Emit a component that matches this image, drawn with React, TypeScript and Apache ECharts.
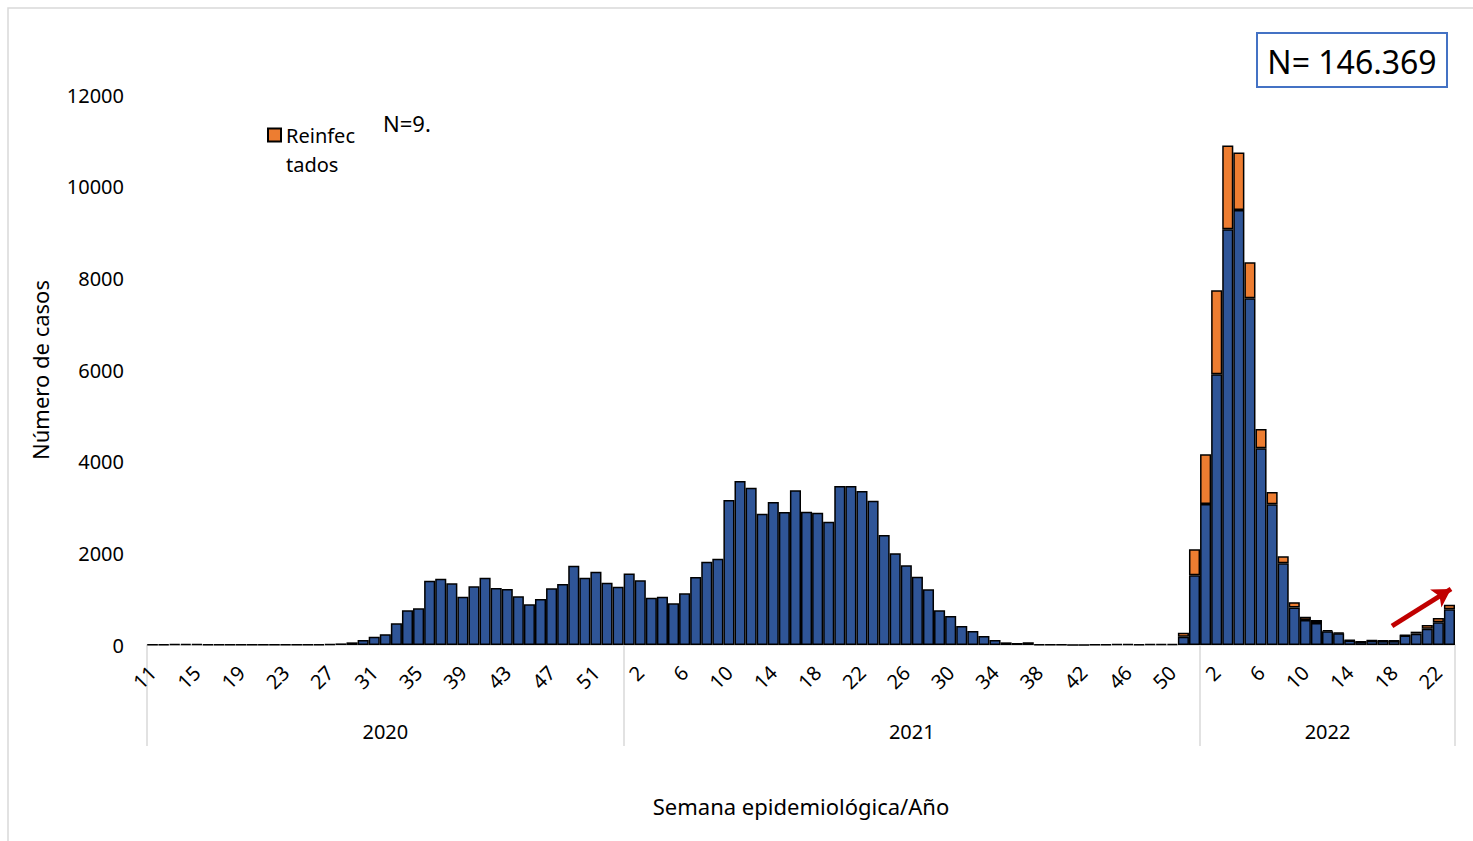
import { useEffect, useRef } from "react";
import * as echarts from "echarts";

// Epidemiological weeks per year
const weeks2020 = Array.from({ length: 43 }, (_, i) => i + 11); // 11..53
const weeks2021 = Array.from({ length: 52 }, (_, i) => i + 1); // 1..52
const weeks2022 = Array.from({ length: 23 }, (_, i) => i + 1); // 1..23
const years = ["2020", "2021", "2022"];

// Cases (blue)
const casos2020 = [
  10, 15, 20, 25, 20, 15, 10, 10, 10, 10,
  10, 10, 15, 10, 10, 15, 20, 35, 58, 109,
  182, 237, 473, 757, 800, 1403, 1447, 1346, 1055, 1280,
  1469, 1244, 1222, 1062, 888, 1004, 1237, 1331, 1731, 1469,
  1600, 1360, 1273,
];
const casos2021 = [
  1560, 1411, 1033, 1055, 909, 1127, 1484, 1818, 1884, 3164,
  3578, 3433, 2866, 3120, 2902, 3375, 2910, 2888, 2691, 3469,
  3469, 3360, 3150, 2400, 2000, 1739, 1491, 1215, 757, 633,
  415, 305, 196, 109, 58, 44, 58, 15, 10, 10,
  5, 5, 10, 15, 20, 20, 15, 20, 20, 25,
  180, 1520,
];
const casos2022 = [
  3077, 5906, 9070, 9492, 7565, 4292, 3070, 1782, 818, 545,
  480, 300, 255, 100, 70, 95, 90, 90, 210, 247,
  356, 495, 778,
];

// Reinfected (orange)
const reinf2020 = [
  0, 0, 0, 0, 0, 0, 0, 0, 0, 0,
  0, 0, 0, 0, 0, 0, 0, 0, 0, 0,
  0, 0, 0, 0, 0, 0, 0, 0, 0, 0,
  0, 0, 0, 0, 0, 0, 0, 0, 0, 0,
  0, 0, 0,
];
const reinf2021 = [
  0, 0, 0, 0, 0, 0, 0, 0, 0, 0,
  0, 0, 0, 0, 0, 0, 0, 0, 0, 0,
  0, 0, 0, 0, 0, 0, 0, 0, 0, 0,
  0, 0, 0, 0, 0, 0, 0, 0, 0, 0,
  0, 0, 0, 0, 0, 0, 0, 0, 0, 0,
  85, 570,
];
const reinf2022 = [
  1084, 1834, 1826, 1251, 785, 421, 268, 153, 117, 73,
  65, 27, 14, 10, 5, 7, 5, 5, 8, 44,
  80, 94, 102,
];

const FONT = '"Noto Sans", "Open Sans", sans-serif';

export default function App() {
  const ref = useRef<HTMLDivElement>(null);

  useEffect(() => {
    if (!ref.current) return;
    const chart = echarts.init(ref.current, undefined, { renderer: "svg" });

    const categories = [
      ...weeks2020.map((w) => `2020-${w}`),
      ...weeks2021.map((w) => `2021-${w}`),
      ...weeks2022.map((w) => `2022-${w}`),
    ];
    const casos = [...casos2020, ...casos2021, ...casos2022];
    const reinf = [...reinf2020, ...reinf2021, ...reinf2022].map((v) => (v > 0 ? v : "-"));

    const start2021 = weeks2020.length;
    const start2022 = weeks2020.length + weeks2021.length;
    const total = categories.length;
    const yearMid: Record<number, string> = {
      [Math.floor(start2021 / 2)]: years[0],
      [Math.floor((start2021 + start2022 - 1) / 2)]: years[1],
      [Math.floor((start2022 + total - 1) / 2)]: years[2],
    };
    const halfShift = (start2022 - start2021) % 2 === 0;

    const itemBorder = { borderColor: "#000", borderWidth: 1.5 };

    chart.setOption({
      animation: false,
      backgroundColor: "#fff",
      textStyle: { fontFamily: FONT, color: "#000" },
      grid: { left: 147, right: 18, top: 95, bottom: 196, containLabel: false },
      legend: {
        show: true,
        data: ["Reinfectados"],
        left: 262,
        top: 120,
        icon: "rect",
        itemWidth: 13,
        itemHeight: 13,
        itemGap: 6,
        formatter: () => "Reinfec",
        textStyle: { fontSize: 20, color: "#000", fontFamily: FONT },
      },
      xAxis: [
        {
          type: "category",
          data: categories,
          boundaryGap: true,
          axisLine: { show: true, lineStyle: { color: "#D9D9D9", width: 1.5 } },
          axisTick: { show: false },
          axisLabel: {
            interval: 3,
            rotate: 45,
            margin: 24,
            fontSize: 20,
            color: "#000",
            fontFamily: FONT,
            formatter: (v: string) => v.split("-")[1],
          },
          splitLine: { show: false },
        },
        {
          type: "category",
          data: categories,
          position: "bottom",
          boundaryGap: true,
          axisLine: { show: false },
          axisTick: {
            show: true,
            length: 101,
            interval: (i: number) => i === 0 || i === start2021 || i === start2022,
            lineStyle: { color: "#D9D9D9", width: 1.5 },
          },
          axisLabel: {
            interval: (i: number) => yearMid[i] !== undefined,
            margin: 76,
            fontSize: 20,
            color: "#000",
            fontFamily: FONT,
            formatter: (v: string) => {
              const y = v.split("-")[0];
              return y === years[1] && halfShift ? `{s|${y}}` : y;
            },
            rich: { s: { fontSize: 20, fontFamily: FONT, color: "#000", padding: [0, 0, 0, 11] } },
          },
          name: "Semana epidemiológica/Año",
          nameLocation: "middle",
          nameGap: 150,
          nameTextStyle: { fontSize: 22, color: "#000", fontFamily: FONT },
          splitLine: { show: false },
        },
      ],
      yAxis: {
        type: "value",
        min: 0,
        max: 12000,
        interval: 2000,
        axisLine: { show: false },
        axisTick: { show: false },
        splitLine: { show: false },
        axisLabel: {
          fontSize: 20,
          color: "#000",
          margin: 23,
          fontFamily: FONT,
          formatter: (v: number) => String(v),
        },
        name: "Número de casos",
        nameLocation: "middle",
        nameRotate: 90,
        nameGap: 96,
        nameTextStyle: { fontSize: 22, color: "#000", fontFamily: FONT },
      },
      series: [
        {
          name: "Casos",
          type: "bar",
          stack: "t",
          data: casos,
          barWidth: "100%",
          barCategoryGap: "0%",
          itemStyle: { color: "#2F5597", ...itemBorder },
          markLine: {
            silent: true,
            symbol: ["none", "arrow"],
            symbolSize: [16, 18],
            label: { show: false },
            lineStyle: { color: "#C00000", width: 5, type: "solid" },
            data: [[{ x: 1392, y: 626 }, { x: 1451, y: 589 }]],
          },
        },
        {
          name: "Reinfectados",
          type: "bar",
          stack: "t",
          data: reinf,
          barWidth: "100%",
          barCategoryGap: "0%",
          itemStyle: { color: "#ED7D31", ...itemBorder },
        },
      ],
      graphic: [
        {
          type: "rect",
          silent: true,
          shape: { x: 8, y: 8, width: 1500, height: 900 },
          style: { fill: "none", stroke: "#D9D9D9", lineWidth: 1.5 },
        },
        {
          type: "text",
          left: 286,
          top: 154,
          style: { text: "tados", fontSize: 20, fill: "#000", fontFamily: FONT },
        },
        {
          type: "text",
          left: 383,
          top: 112,
          style: { text: "N=9.", fontSize: 22, fill: "#000", fontFamily: FONT },
        },
        {
          type: "rect",
          shape: { x: 1257, y: 33, width: 190, height: 54 },
          style: { fill: "#fff", stroke: "#4472C4", lineWidth: 2 },
        },
        {
          type: "text",
          x: 1352,
          y: 61,
          style: {
            text: "N= 146.369",
            fontSize: 32,
            fill: "#000",
            fontFamily: FONT,
            align: "center",
            verticalAlign: "middle",
          },
        },
      ],
    });

    return () => chart.dispose();
  }, []);

  return (
    <div
      ref={ref}
      style={{ position: "fixed", left: 0, top: 0, width: 1473, height: 841, background: "#fff" }}
    />
  );
}
